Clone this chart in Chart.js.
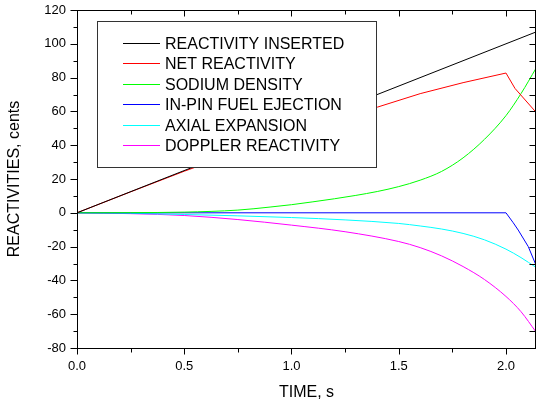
<!DOCTYPE html>
<html>
<head>
<meta charset="utf-8">
<script src="https://cdn.jsdelivr.net/npm/chart.js@4.4.0/dist/chart.umd.min.js"></script>
<style>
  html, body { margin: 0; padding: 0; background: #fff; }
  #grafico { display: block; }
</style>
</head>
<body>
<canvas id="grafico" width="536" height="403"></canvas>
<script>
// valores (tempo em s, reatividade em cents)
var tInserted = [0, 2.14];
var inserted = [0, 107];

var tNet = [0, 0.25, 0.5, 0.75, 1.0, 1.25, 1.4, 1.6, 1.8, 2.0, 2.042, 2.14];
var net = [0, 12.4, 24.6, 36, 46, 55.5, 62.5, 70.5, 77, 82.7, 73.6, 59.5];

var tSodium = [0, 0.25, 0.5, 0.75, 0.9, 1.0, 1.1, 1.2, 1.3, 1.4, 1.5, 1.6, 1.7, 1.8, 1.9, 2.0, 2.07, 2.14];
var sodium = [0, 0.1, 0.4, 1.6, 3.4, 4.8, 6.5, 8.3, 10.3, 12.6, 15.5, 19.3, 24.5, 32.5, 43.5, 57.5, 70.5, 85.5];

var tFuel = [0, 2.0, 2.034, 2.057, 2.104, 2.14];
var fuel = [0, 0, -5.9, -10.2, -20, -31];

var tAxial = [0, 0.25, 0.5, 0.75, 1.0, 1.25, 1.5, 1.6, 1.7, 1.8, 1.9, 2.0, 2.07, 2.14];
var axial = [0, -0.3, -1.0, -1.8, -2.8, -4.2, -6.3, -7.8, -9.6, -12.2, -16, -21.5, -26.5, -32.3];

var tDoppler = [0, 0.25, 0.5, 0.75, 1.0, 1.25, 1.5, 1.6, 1.7, 1.8, 1.9, 2.0, 2.07, 2.14];
var doppler = [0, -0.5, -1.6, -4, -7.3, -11.2, -17, -20.6, -25.5, -31.8, -39.5, -49.5, -58.5, -70.5];

var seriesNames = ['REACTIVITY INSERTED', 'NET REACTIVITY', 'SODIUM DENSITY',
    'IN-PIN FUEL EJECTION', 'AXIAL EXPANSION', 'DOPPLER REACTIVITY'];
var seriesColors = ['#000000', '#ff0000', '#00ff00', '#0000ff', '#00ffff', '#ff00ff'];

var xTickStep = 0.5;
var yTickStep = 20;

function pares(tempos, valores) {
    var lista = [];
    for (var i = 0; i < tempos.length; i++) {
        lista.push({ x: tempos[i], y: valores[i] });
    }
    return lista;
}

function serie(i, tempos, valores, suave) {
    return {
        label: seriesNames[i],
        data: pares(tempos, valores),
        borderColor: seriesColors[i],
        backgroundColor: seriesColors[i],
        borderWidth: 1,
        pointRadius: 0,
        fill: false,
        cubicInterpolationMode: suave ? 'monotone' : 'default',
        tension: 0
    };
}

// legenda dentro da área do gráfico + moldura com ticks nos 4 lados
var molduraPlugin = {
    id: 'moldura',
    afterDatasetsDraw: function (chart) {
        var ctx = chart.ctx;
        var area = chart.chartArea;
        var sx = chart.scales.x;
        var sy = chart.scales.y;
        ctx.save();

        // legenda
        ctx.fillStyle = '#fff';
        ctx.fillRect(97, 21, 280, 147);
        ctx.strokeStyle = '#333';
        ctx.lineWidth = 1;
        ctx.strokeRect(97.5, 21.5, 279, 146);
        ctx.font = '16px "Liberation Sans", Arial, sans-serif';
        ctx.textBaseline = 'middle';
        for (var i = 0; i < seriesNames.length; i++) {
            var yl = Math.round(43 + i * 20.4) + 0.5;
            ctx.strokeStyle = seriesColors[i];
            ctx.beginPath();
            ctx.moveTo(123, yl);
            ctx.lineTo(160, yl);
            ctx.stroke();
            ctx.fillStyle = '#000';
            ctx.fillText(seriesNames[i], 165, yl + 1);
        }

        // moldura
        ctx.strokeStyle = '#000';
        ctx.lineWidth = 1;
        var l = Math.round(area.left) + 0.5;
        var r = Math.round(area.right) - 0.5;
        var t = Math.round(area.top) + 0.5;
        var b = Math.round(area.bottom) + 0.5;
        ctx.strokeRect(l, t, r - l, b - t);

        ctx.beginPath();
        // ticks do eixo x (maiores a cada 0.5, menores a cada 0.25)
        for (var k = 0; k * xTickStep / 2 <= sx.max + 1e-9; k++) {
            var px = Math.round(sx.getPixelForValue(k * xTickStep / 2)) + 0.5;
            var len = (k % 2 === 0) ? 6 : 4;
            ctx.moveTo(px, b);
            ctx.lineTo(px, b + len);
            ctx.moveTo(px, t);
            ctx.lineTo(px, t + len);
        }
        // ticks do eixo y (maiores a cada 20, menores a cada 10)
        for (var j = 0; sy.min + j * yTickStep / 2 <= sy.max + 1e-9; j++) {
            var py = Math.round(sy.getPixelForValue(sy.min + j * yTickStep / 2)) + 0.5;
            var lenY = (j % 2 === 0) ? 7 : 4;
            ctx.moveTo(l - lenY, py);
            ctx.lineTo(l, py);
            ctx.moveTo(r - 6, py);
            ctx.lineTo(r, py);
        }
        ctx.stroke();
        ctx.restore();
    }
};

Chart.defaults.font.family = '"Liberation Sans", Arial, sans-serif';
Chart.defaults.color = '#000';

var ctx = document.getElementById('grafico');
new Chart(ctx, {
    type: 'line',
    data: {
        datasets: [
            serie(0, tInserted, inserted, false),
            serie(1, tNet, net, false),
            serie(2, tSodium, sodium, true),
            serie(3, tFuel, fuel, false),
            serie(4, tAxial, axial, true),
            serie(5, tDoppler, doppler, true)
        ]
    },
    options: {
        responsive: false,
        animation: false,
        devicePixelRatio: 1,
        layout: { padding: { top: 10, right: 0, left: 0, bottom: 0 } },
        plugins: {
            legend: { display: false },
            tooltip: { enabled: false }
        },
        scales: {
            x: {
                type: 'linear',
                min: 0,
                max: 2.14,
                afterFit: function (s) {
                    s.height = 55;
                    s.paddingLeft = 0;
                    s.paddingRight = 0;
                },
                grid: { display: false, drawTicks: false },
                border: { display: false },
                ticks: {
                    stepSize: xTickStep,
                    includeBounds: false,
                    autoSkip: false,
                    maxRotation: 0,
                    padding: 11,
                    font: { size: 13 },
                    callback: function (v) { return v.toFixed(1); }
                },
                title: {
                    display: true,
                    text: 'TIME, s',
                    font: { size: 16 },
                    padding: { top: 0, bottom: 1 }
                }
            },
            y: {
                min: -80,
                max: 120,
                afterFit: function (s) {
                    s.width = 77;
                    s.paddingTop = 0;
                    s.paddingBottom = 0;
                },
                grid: { display: false, drawTicks: false },
                border: { display: false },
                ticks: {
                    stepSize: yTickStep,
                    includeBounds: false,
                    padding: 11,
                    font: { size: 13 }
                },
                title: {
                    display: true,
                    text: 'REACTIVITIES, cents',
                    font: { size: 16 },
                    padding: { top: 5, bottom: 0 }
                }
            }
        }
    },
    plugins: [molduraPlugin]
});
</script>
</body>
</html>
